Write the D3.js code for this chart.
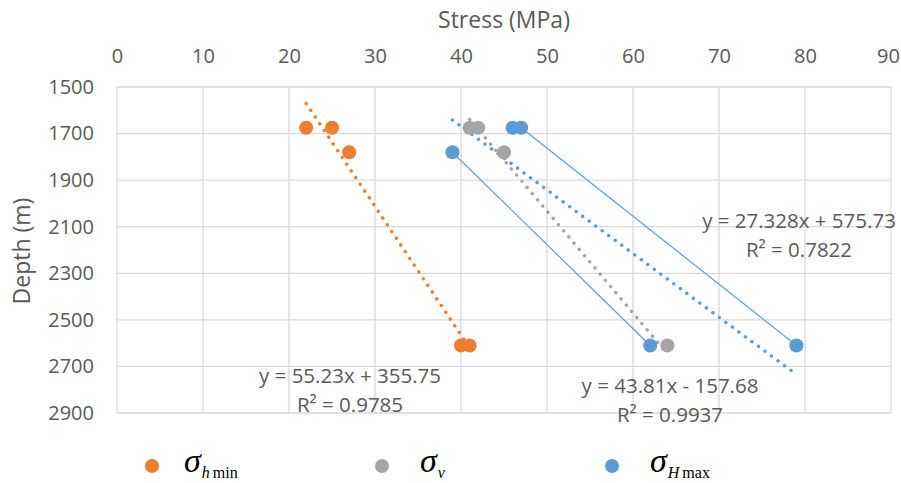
<!DOCTYPE html>
<html>
<head>
<meta charset="utf-8">
<script src="https://cdn.jsdelivr.net/npm/d3@7"></script>
<style>
  body { margin: 0; background: #fff; }
  svg { display: block; font-family: "Open Sans", sans-serif; }
</style>
</head>
<body>
<svg id="chart" width="901" height="483"></svg>
<script>
// axis ticks
var stressTicks = [0, 10, 20, 30, 40, 50, 60, 70, 80, 90]
var depthTicks = [1500, 1700, 1900, 2100, 2300, 2500, 2700, 2900]

// measured points (stress in MPa, depth in m)
var hminStress = [22, 25, 27, 40, 41]
var hminDepth = [1675, 1675, 1780, 2610, 2610]
var vStress = [41, 42, 45, 64]
var vDepth = [1675, 1675, 1780, 2610]
var hmaxStress = [39, 46, 47, 62, 79]
var hmaxDepth = [1780, 1675, 1675, 2610, 2610]

// thin solid lines joining sigma H max points (index pairs)
var hmaxLinks = [[0, 3], [2, 4]]

// linear trendlines: depth = slope * stress + intercept
var trendSlope = [55.23, 43.81, 27.328]
var trendIntercept = [355.75, -157.68, 575.73]
var trendEq = ["y = 55.23x + 355.75", "y = 43.81x - 157.68", "y = 27.328x + 575.73"]
var trendR2 = ["R² = 0.9785", "R² = 0.9937", "R² = 0.7822"]

var colors = ["#ed7d31", "#a5a5a5", "#5b9bd5"]
var textColor = "#595959"

var series = [
    {stress: hminStress, depth: hminDepth},
    {stress: vStress, depth: vDepth},
    {stress: hmaxStress, depth: hmaxDepth}
]

// where each equation label sits (centre x, first baseline)
var labelPos = [[350, 383], [670, 393], [799, 228]]

var svg = d3.select("#chart")

var x = d3.scaleLinear().domain([0, 90]).range([117, 891])
var y = d3.scaleLinear().domain([1500, 2900]).range([87, 413])

// grid
var grid = svg.append("g").attr("stroke", "#d9d9d9").attr("stroke-width", 1.3)
grid.selectAll(".v").data(stressTicks).enter().append("line")
    .attr("x1", d => x(d)).attr("x2", d => x(d))
    .attr("y1", y(1500)).attr("y2", y(2900))
grid.selectAll(".h").data(depthTicks).enter().append("line")
    .attr("x1", x(0)).attr("x2", x(90))
    .attr("y1", d => y(d)).attr("y2", d => y(d))

// axes
var xAxis = svg.append("g")
    .attr("transform", "translate(0," + y(1500) + ")")
    .call(d3.axisTop(x).tickValues(stressTicks).tickSize(0).tickPadding(24))
var yAxis = svg.append("g")
    .attr("transform", "translate(" + x(0) + ",0)")
    .call(d3.axisLeft(y).tickValues(depthTicks).tickFormat(d3.format("d")).tickSize(0).tickPadding(23))
svg.selectAll(".domain").remove()
svg.selectAll(".tick text")
    .attr("fill", textColor)
    .style("font-size", "20px")
    .style("font-family", "'Open Sans', sans-serif")
// keep the last label inside the window
xAxis.selectAll(".tick text").filter(d => d == 90).attr("dx", -3)

svg.append("text")
    .attr("x", 504).attr("y", 28)
    .attr("text-anchor", "middle")
    .attr("fill", textColor)
    .style("font-size", "23px")
    .text("Stress (MPa)")

svg.append("text")
    .attr("transform", "translate(30,251) rotate(-90)")
    .attr("text-anchor", "middle")
    .attr("fill", textColor)
    .style("font-size", "23px")
    .text("Depth (m)")

// thin connecting lines
svg.append("g").selectAll("line")
    .data(hmaxLinks).enter().append("line")
    .attr("x1", d => x(hmaxStress[d[0]])).attr("y1", d => y(hmaxDepth[d[0]]))
    .attr("x2", d => x(hmaxStress[d[1]])).attr("y2", d => y(hmaxDepth[d[1]]))
    .attr("stroke", colors[2]).attr("stroke-width", 1.2)

// dotted trendlines
series.forEach(function(s, i) {
    var lo = d3.min(s.stress), hi = d3.max(s.stress)
    svg.append("line")
        .attr("x1", x(lo)).attr("y1", y(trendSlope[i] * lo + trendIntercept[i]))
        .attr("x2", x(hi)).attr("y2", y(trendSlope[i] * hi + trendIntercept[i]))
        .attr("stroke", colors[i])
        .attr("stroke-width", 3.4)
        .attr("stroke-linecap", "round")
        .attr("stroke-dasharray", "0.1 8")
})

// markers
series.forEach(function(s, i) {
    svg.append("g").selectAll("circle")
        .data(s.stress).enter().append("circle")
        .attr("cx", d => x(d))
        .attr("cy", (d, j) => y(s.depth[j]))
        .attr("r", 7)
        .attr("fill", colors[i])
})

// equation labels
labelPos.forEach(function(p, i) {
    var t = svg.append("text")
        .attr("text-anchor", "middle")
        .attr("fill", textColor)
        .style("font-size", "20.5px")
    t.append("tspan").attr("x", p[0]).attr("y", p[1]).text(trendEq[i])
    t.append("tspan").attr("x", p[0]).attr("y", p[1] + 29).text(trendR2[i])
})

// legend
var legendX = [152, 382, 612]
var legendSub = [["h", "min"], ["v", ""], ["H", "max"]]
var legend = svg.append("g").style("font-family", "'Liberation Serif', 'Times New Roman', serif")
legendX.forEach(function(lx, i) {
    legend.append("circle").attr("cx", lx).attr("cy", 466).attr("r", 7).attr("fill", colors[i])
    var t = legend.append("text")
        .attr("x", lx + (i == 0 ? 32 : 38)).attr("y", 472)
        .attr("fill", "#000")
    t.append("tspan").style("font-size", "34px").style("font-style", "italic").text("σ")
    t.append("tspan").attr("dy", 6).style("font-size", "16px").style("font-style", "italic")
        .attr("dx", 1).text(legendSub[i][0])
    if (legendSub[i][1])
        t.append("tspan").style("font-size", "16px").attr("dx", 3).text(legendSub[i][1])
})
</script>
</body>
</html>
